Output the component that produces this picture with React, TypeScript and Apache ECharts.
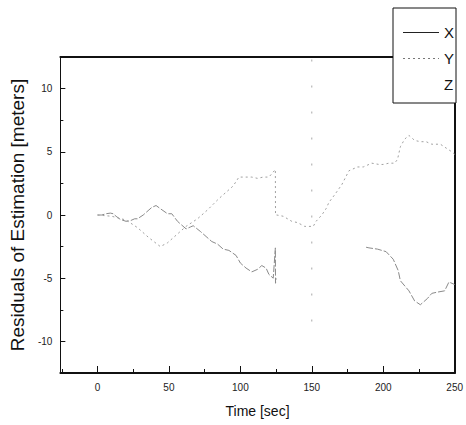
import React, { useEffect, useRef } from "react";
import * as echarts from "echarts";

// Time [sec], residual [meters]; "-" marks stretches that are not visible in the source
const seriesX: [number, number | string][] = [
  [0, 0], [3, 0], [6, 0.1], [9, 0.15], [11, 0.1], [13, -0.1], [16, -0.35], [20, -0.5],
  [23, -0.45], [26, -0.3], [28, -0.3], [32, 0], [36, 0.4], [38, 0.6], [41, 0.75], [44, 0.5],
  [49, 0.1], [52, 0.1], [56, -0.5], [59, -0.8], [62, -1.1], [65, -0.95], [67, -0.85],
  [72, -1.3], [76, -1.7], [80, -2.1], [84, -2.3], [88, -2.7], [92, -2.8], [97, -3.2],
  [100, -3.8], [104, -4.2], [108, -4.5], [112, -4.3], [115, -4.0], [118, -4.2], [120, -4.7],
  [123, -5.0], [124.5, -2.6], [124.6, -5.4], [125, -5.0], [140, "-"],
  [188, -2.55], [190, -2.6], [196, -2.7], [202, -2.9], [207, -3.5], [210.5, -4.4], [212, -5.2],
  [218, -6.0], [222, -6.8], [226, -7.1], [231, -6.6], [234, -6.2], [238, -6.1], [243, -6.0],
  [246, -5.3], [250, -5.5],
];

const seriesY: [number, number][] = [
  [0, 0], [10, -0.1], [20, -0.4], [28, -1.0], [36, -1.8], [44, -2.5], [49, -2.2], [55, -1.6],
  [62, -0.9], [70, -0.3], [77, 0.4], [85, 1.3], [95, 2.3], [99, 3.0], [103, 3.0], [108, 3.0],
  [112, 2.9], [116, 3.0], [120, 3.0], [124.5, 3.6], [124.6, 0.0], [125.5, 0.0], [130, -0.1],
  [136, -0.5], [140, -0.6], [145, -0.9], [151, -0.9], [153, -0.5], [157, 0.0], [160, 0.5],
  [162, 1.0], [166, 1.6], [171, 2.4], [176, 3.5], [178, 3.6], [182, 3.8], [186, 3.8],
  [192, 4.1], [197, 4.0], [200, 4.0], [204, 4.1], [208, 4.1], [210, 4.4], [212, 5.4],
  [215, 6.0], [218, 6.3], [222, 5.9], [226, 5.8], [230, 5.8], [234, 5.6], [240, 5.6],
  [244, 5.3], [248, 5.0], [250, 4.8],
];

const seriesZ: [number, number][] = [
  [150, 12.3], [150, -10],
];

const xTickLabels = [0, 50, 100, 150, 200, 250];
const yTickLabels = [-10, -5, 0, 5, 10];

export default function App() {
  const ref = useRef<HTMLDivElement>(null);
  useEffect(() => {
    if (!ref.current) return;
    const chart = echarts.init(ref.current, null, { renderer: "svg" });
    const font = "'Liberation Sans', Arial, sans-serif";
    chart.setOption({
      animation: false,
      backgroundColor: "#fff",
      grid: { left: 51, right: 10, top: 57, bottom: 52, show: false },
      legend: {
        orient: "vertical",
        left: 393,
        top: 8,
        padding: [17, 2, 11, 9],
        itemWidth: 36,
        itemHeight: 14,
        itemGap: 11,
        backgroundColor: "#fff",
        borderColor: "#111",
        borderWidth: 1,
        borderRadius: 0,
        textStyle: { fontFamily: font, fontSize: 15, color: "#111", lineHeight: 14 },
        data: [
          { name: "X", itemStyle: { opacity: 0 }, lineStyle: { color: "#222", width: 1, type: "solid" } },
          { name: "Y", itemStyle: { opacity: 0 }, lineStyle: { color: "#777", width: 1, type: [2, 3] } },
          { name: "Z", itemStyle: { opacity: 0 }, lineStyle: { opacity: 0 } },
        ],
      },
      xAxis: [
        {
          type: "value",
          min: -26,
          max: 250,
          splitNumber: 5,
          name: "Time [sec]",
          nameLocation: "middle",
          nameGap: 31,
          nameTextStyle: { fontFamily: font, fontSize: 14, color: "#111" },
          axisLine: { show: true, onZero: false, lineStyle: { color: "#111", width: 2 } },
          axisTick: { show: true, inside: true, length: 7, lineStyle: { color: "#111" } },
          minorTick: { show: true, splitNumber: 2, length: 4, lineStyle: { color: "#111" } },
          splitLine: { show: false },
          axisLabel: {
            fontFamily: font,
            fontSize: 10,
            color: "#222",
            margin: 9,
            showMinLabel: true,
            formatter: (v: number) => (xTickLabels.includes(v) ? String(v) : ""),
          },
        },
        {
          type: "value",
          position: "top",
          min: -26,
          max: 250,
          axisLine: { show: true, onZero: false, lineStyle: { color: "#111", width: 2 } },
          axisTick: { show: false },
          axisLabel: { show: false },
          splitLine: { show: false },
        },
      ],
      yAxis: [
        {
          type: "value",
          min: -12.5,
          max: 12.5,
          splitNumber: 5,
          name: "Residuals of Estimation [meters]",
          nameLocation: "middle",
          nameGap: 26,
          nameTextStyle: { fontFamily: font, fontSize: 19, color: "#111" },
          axisLine: { show: true, onZero: false, lineStyle: { color: "#111", width: 1 } },
          axisTick: { show: true, inside: true, length: 5, lineStyle: { color: "#111" } },
          minorTick: { show: true, splitNumber: 2, length: 3, lineStyle: { color: "#111" } },
          splitLine: { show: false },
          axisLabel: {
            fontFamily: font,
            fontSize: 10,
            color: "#222",
            margin: 8,
            formatter: (v: number) => (yTickLabels.includes(v) ? String(v) : ""),
          },
        },
        {
          type: "value",
          position: "right",
          min: -12.5,
          max: 12.5,
          axisLine: { show: true, onZero: false, lineStyle: { color: "#111", width: 2 } },
          axisTick: { show: false },
          axisLabel: { show: false },
          splitLine: { show: false },
        },
      ],
      series: [
        {
          name: "X",
          type: "line",
          data: seriesX,
          symbol: "none",
          connectNulls: false,
          lineStyle: { color: "#8a8a8a", width: 1, type: [7, 2] },
          itemStyle: { color: "#8a8a8a" },
        },
        {
          name: "Y",
          type: "line",
          data: seriesY,
          symbol: "none",
          lineStyle: { color: "#a0a0a0", width: 1, type: [2, 3] },
          itemStyle: { color: "#a0a0a0" },
        },
        {
          name: "Z",
          type: "line",
          data: seriesZ,
          symbol: "none",
          lineStyle: { color: "#a8a8a8", width: 1, type: [2, 24] },
          itemStyle: { color: "#a8a8a8" },
        },
      ],
    });
    return () => chart.dispose();
  }, []);
  return <div ref={ref} style={{ width: 466, height: 425, position: "absolute", left: 0, top: 0 }} />;
}
